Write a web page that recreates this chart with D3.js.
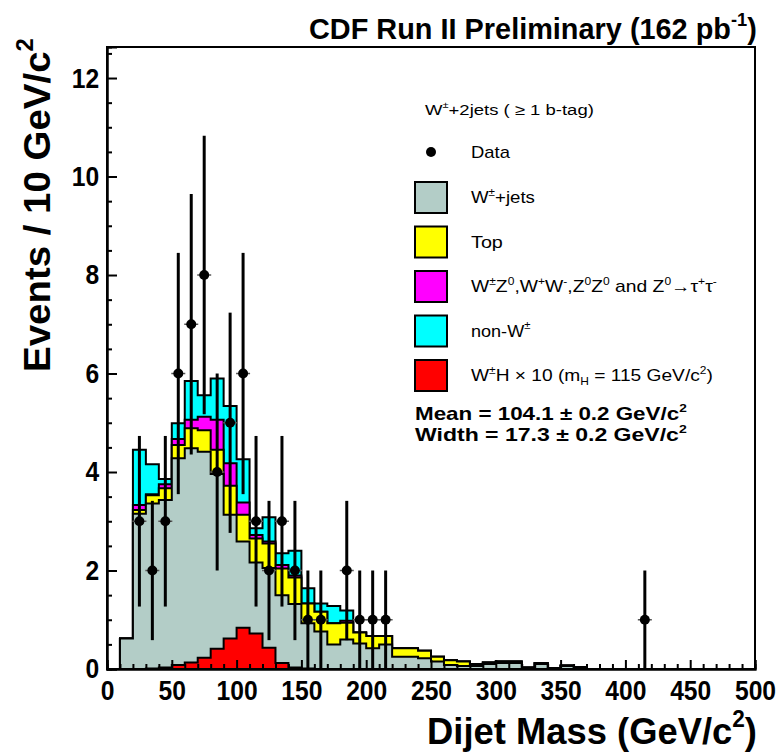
<!DOCTYPE html>
<html>
<head>
<meta charset="utf-8">
<script src="https://cdn.jsdelivr.net/npm/d3@7"></script>
<style>
body { margin: 0; background: #fff; }
svg { font-family: "Liberation Sans", Arial, Helvetica, sans-serif; }
</style>
</head>
<body>
<svg id="chart" width="780" height="752"></svg>
<script>
// dijet mass bins, 10 GeV/c^2 wide, lower edges 0..490
var binLow = d3.range(0, 500, 10);

var wjets = [0, 0.62, 3.15, 3.36, 3.43, 4.28, 4.48, 4.41, 3.96, 3.13,
	2.59, 2.16, 2.05, 1.5, 1.32, 0.93, 0.76, 0.5, 0.6, 0.52,
	0.42, 0.5, 0.25, 0.25, 0.22, 0.15, 0.08, 0.06, 0.06, 0.1,
	0.12, 0.12, 0.02, 0.1, 0.02, 0.06, 0.04, 0, 0, 0,
	0, 0, 0, 0, 0, 0, 0, 0, 0, 0];
var topq = [0, 0, 0.08, 0.17, 0.24, 0.27, 0.41, 0.44, 0.49, 0.59,
	0.54, 0.49, 0.5, 0.54, 0.54, 0.4, 0.4, 0.43, 0.34, 0.22,
	0.25, 0.17, 0.17, 0.17, 0.15, 0.1, 0.1, 0.09, 0.04, 0.03,
	0.03, 0.03, 0.01, 0.02, 0, 0.01, 0, 0, 0, 0,
	0, 0, 0, 0, 0, 0, 0, 0, 0, 0];
var diboson = [0, 0, 0.1, 0.02, 0.08, 0.12, 0.17, 0.27, 0.61, 0.46,
	0.25, 0.07, 0.04, 0.07, 0.04, 0, 0, 0, 0.04, 0,
	0, 0, 0, 0, 0, 0, 0, 0, 0, 0,
	0, 0, 0, 0, 0, 0, 0, 0, 0, 0,
	0, 0, 0, 0, 0, 0, 0, 0, 0, 0];
var nonW = [0, 0, 1.12, 0.61, 0.11, 0.32, 0.79, 0.44, 0.84, 1.16,
	0.88, 0.14, 0.49, 0.24, 0.5, 0.31, 0.17, 0.35, 0.21, 0,
	0, 0, 0, 0, 0, 0, 0, 0, 0, 0,
	0, 0, 0, 0, 0, 0, 0, 0, 0, 0,
	0, 0, 0, 0, 0, 0, 0, 0, 0, 0];
// W+H signal scaled x10, drawn on its own (not stacked)
var higgsX10 = [0, 0, 0, 0.01, 0.03, 0.08, 0.13, 0.23, 0.41, 0.62,
	0.84, 0.72, 0.43, 0.12, 0.03, 0.01, 0, 0, 0, 0,
	0, 0, 0, 0, 0, 0, 0, 0, 0, 0,
	0, 0, 0, 0, 0, 0, 0, 0, 0, 0,
	0, 0, 0, 0, 0, 0, 0, 0, 0, 0];
var dataCounts = [0, 0, 3, 2, 3, 6, 7, 8, 4, 5,
	6, 3, 2, 3, 2, 1, 1, 0, 2, 1,
	1, 1, 0, 0, 0, 0, 0, 0, 0, 0,
	0, 0, 0, 0, 0, 0, 0, 0, 0, 0,
	0, 1, 0, 0, 0, 0, 0, 0, 0, 0];

var xTicks = [0, 50, 100, 150, 200, 250, 300, 350, 400, 450, 500];
var yTicks = [0, 2, 4, 6, 8, 10, 12];

var colors = {
	wjets : "#b3cdc7",
	top : "#ffff00",
	diboson : "#ff00ff",
	nonW : "#00ffff",
	higgs : "#ff0000"
};

var svg = d3.select("#chart");
var x = d3.scaleLinear().domain([0, 500]).range([107, 755]);
var y = d3.scaleLinear().domain([0, 12.63]).range([669, 47]);

// text with super/subscripts: segs = [[text, ""|"sup"|"sub"], ...]
function rich(parent, size, weight, segs) {
	var t = parent.append("text")
		.attr("x", 0).attr("y", 0)
		.style("font-size", size + "px")
		.style("font-weight", weight);
	var shift = 0;
	segs.forEach(function(s) {
		var want = s[1] == "sup" ? -0.45 * size : (s[1] == "sub" ? 0.28 * size : 0);
		var ts = t.append("tspan").text(s[0]).attr("dy", want - shift);
		if (s[1]) ts.style("font-size", Math.round(size * 0.62) + "px");
		shift = want;
	});
	return t;
}

// place a text block with its left end at (px,py), squeezed/stretched to width w
function placeText(size, weight, segs, px, py, w, rotate) {
	var g = svg.append("g");
	var t = rich(g, size, weight, segs);
	if (w) {
		var bw = t.node().getBBox().width;
		t.attr("transform", "scale(" + (w / bw) + ",1)");
	}
	g.attr("transform", "translate(" + px + "," + py + ")" + (rotate ? " rotate(" + rotate + ")" : ""));
	return g;
}

// cumulative stacks
var s1 = wjets.map(function(v, i) { return v; });
var s2 = s1.map(function(v, i) { return v + topq[i]; });
var s3 = s2.map(function(v, i) { return v + diboson[i]; });
var s4 = s3.map(function(v, i) { return v + nonW[i]; });

function stepPath(vals) {
	var p = d3.path();
	p.moveTo(x(0), y(0));
	vals.forEach(function(v, i) {
		p.lineTo(x(binLow[i]), y(v));
		p.lineTo(x(binLow[i] + 10), y(v));
	});
	p.lineTo(x(500), y(0));
	p.closePath();
	return p.toString();
}

var layers = [
	[s4, colors.nonW],
	[s3, colors.diboson],
	[s2, colors.top],
	[s1, colors.wjets],
	[higgsX10, colors.higgs]
];
svg.append("g").selectAll("path")
	.data(layers)
	.join("path")
	.attr("d", function(d) { return stepPath(d[0]); })
	.attr("fill", function(d) { return d[1]; })
	.attr("stroke", "#000")
	.attr("stroke-width", 2)
	.attr("stroke-linejoin", "miter");

// data points with sqrt(N) errors
var pts = dataCounts.map(function(n, i) { return { c : binLow[i] + 5, n : n }; })
	.filter(function(d) { return d.n > 0; });
var dg = svg.append("g");
dg.selectAll("line.err")
	.data(pts)
	.join("line")
	.attr("class", "err")
	.attr("x1", function(d) { return x(d.c); })
	.attr("x2", function(d) { return x(d.c); })
	.attr("y1", function(d) { return y(d.n + Math.sqrt(d.n)); })
	.attr("y2", function(d) { return y(d.n - Math.sqrt(d.n)); })
	.attr("stroke", "#000")
	.attr("stroke-width", 3);
dg.selectAll("line.cap")
	.data(pts)
	.join("line")
	.attr("class", "cap")
	.attr("x1", function(d) { return x(d.c) - 7; })
	.attr("x2", function(d) { return x(d.c) + 7; })
	.attr("y1", function(d) { return y(d.n); })
	.attr("y2", function(d) { return y(d.n); })
	.attr("stroke", "#555")
	.attr("stroke-width", 1.5);
dg.selectAll("circle")
	.data(pts)
	.join("circle")
	.attr("cx", function(d) { return x(d.c); })
	.attr("cy", function(d) { return y(d.n); })
	.attr("r", 5)
	.attr("fill", "#000");

// frame
svg.append("rect")
	.attr("x", x(0)).attr("y", y(12.63))
	.attr("width", x(500) - x(0)).attr("height", y(0) - y(12.63))
	.attr("fill", "none").attr("stroke", "#000").attr("stroke-width", 2);

// axes
var yMinor = d3.range(0, 12.6, 0.5).filter(function(v) { return v % 2 != 0; });
var xMinor = d3.range(0, 500, 10).filter(function(v) { return v % 50 != 0; });

svg.append("g")
	.attr("transform", "translate(" + x(0) + ",0)")
	.call(d3.axisLeft(y).tickValues(yTicks).tickSize(-10).tickPadding(9).tickFormat(d3.format("d")));
svg.append("g")
	.attr("transform", "translate(" + x(0) + ",0)")
	.call(d3.axisLeft(y).tickValues(yMinor).tickSize(-5).tickFormat(""));
svg.append("g")
	.attr("transform", "translate(0," + y(0) + ")")
	.call(d3.axisBottom(x).tickValues(xTicks).tickSize(-9).tickPadding(11).tickFormat(d3.format("d")));
svg.append("g")
	.attr("transform", "translate(0," + y(0) + ")")
	.call(d3.axisBottom(x).tickValues(xMinor).tickSize(-5).tickFormat(""));

svg.selectAll(".domain").attr("stroke-width", 2);
svg.selectAll(".tick line").attr("stroke-width", 2);
svg.selectAll(".tick text")
	.style("font-size", "28px")
	.style("font-weight", "bold")
	.style("font-family", "'Liberation Sans', Arial, sans-serif")
	.attr("transform", "scale(0.88,1)")
	.attr("fill", "#000");

// titles
placeText(30, "bold", [["CDF Run II Preliminary (162 pb", ""], ["-1", "sup"], [")", ""]], 309, 39, 448);
placeText(37, "bold", [["Dijet Mass (GeV/c", ""], ["2", "sup"], [")", ""]], 427, 744, 330);
placeText(37, "bold", [["Events / 10 GeV/c", ""], ["2", "sup"]], 50, 372, 334, -90);

// legend
placeText(15, "normal", [["W", ""], ["\u00b1", "sup"], ["+2jets ( \u2265 1 b-tag)", ""]], 425, 115, 169);

svg.append("circle").attr("cx", 431).attr("cy", 152).attr("r", 5).attr("fill", "#000");
placeText(16, "normal", [["Data", ""]], 471, 158, 39);

var legendItems = [
	[colors.wjets, [["W", ""], ["\u00b1", "sup"], ["+jets", ""]]],
	[colors.top, [["Top", ""]]],
	[colors.diboson, [["W", ""], ["\u00b1", "sup"], ["Z", ""], ["0", "sup"], [",W", ""], ["+", "sup"], ["W", ""], ["-", "sup"],
		[",Z", ""], ["0", "sup"], ["Z", ""], ["0", "sup"], [" and Z", ""], ["0", "sup"], ["\u2192\u03c4", ""], ["+", "sup"], ["\u03c4", ""], ["-", "sup"]]],
	[colors.nonW, [["non-W", ""], ["\u00b1", "sup"]]],
	[colors.higgs, [["W", ""], ["\u00b1", "sup"], ["H \u00d7 10 (m", ""], ["H", "sub"], [" = 115 GeV/c", ""], ["2", "sup"], [")", ""]]]
];
var legendWidths = [64, 32, 246, 60, 242];
legendItems.forEach(function(item, i) {
	var cy = 197 + i * 44.5;
	svg.append("rect")
		.attr("x", 415).attr("y", cy - 15)
		.attr("width", 32).attr("height", 31)
		.attr("fill", item[0]).attr("stroke", "#000").attr("stroke-width", 2);
	placeText(16, "normal", item[1], 471, cy + 6, legendWidths[i]);
});

placeText(18, "bold", [["Mean = 104.1 \u00b1 0.2 GeV/c", ""], ["2", "sup"]], 415, 420, 272);
placeText(18, "bold", [["Width = 17.3 \u00b1 0.2 GeV/c", ""], ["2", "sup"]], 415, 441, 272);
</script>
</body>
</html>
